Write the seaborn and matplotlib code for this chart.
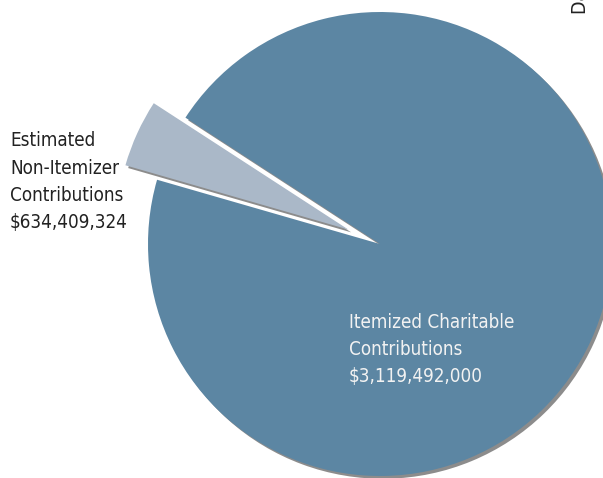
import matplotlib
matplotlib.use("Agg")
import matplotlib.pyplot as plt
import matplotlib.patheffects as pe
import seaborn as sns

# slice labels and dollar amounts shown on the chart
labels = ["Estimated\nNon-Itemizer\nContributions", "Itemized Charitable\nContributions"]
amounts = ["$634,409,324", "$3,119,492,000"]
# slice shares as drawn in the picture (percent of the circle)
shares = [4.7, 95.3]
explode = [0.15, 0.0]
colors = ["#aab8c8", "#5c86a3"]

sns.set_theme(style="white")
plt.rcParams["font.family"] = ["DejaVu Sans"]
plt.rcParams["font.stretch"] = "condensed"

fig = plt.figure(figsize=(6.03, 4.78), dpi=100)
ax = fig.add_axes([0, 0, 1, 1])

# 파이 차트
wedges, _ = ax.pie(
    shares,
    explode=explode,
    colors=colors,
    startangle=147,
    counterclock=True,
    radius=1.0,
    wedgeprops={"linewidth": 0},
)
for w in wedges:
    w.set_path_effects([
        pe.SimplePatchShadow(offset=(2, -2), shadow_rgbFace="#8c8c8c", alpha=1.0),
        pe.Normal(),
    ])

# 픽셀 기준으로 중심(380, 244), 반지름 232px에 맞춤
ax.set_xlim(-380 / 232, (603 - 380) / 232)
ax.set_ylim(-(478 - 244) / 232, 244 / 232)
ax.set_aspect("equal")
ax.axis("off")

# 라벨 (마지막 줄 기준선 위치)
fig.text(10 / 603, 1 - 228 / 478, labels[0] + "\n" + amounts[0],
         ha="left", va="baseline", fontsize=13.5, color="#222222", linespacing=1.55)
fig.text(349 / 603, 1 - 382 / 478, labels[1] + "\n" + amounts[1],
         ha="left", va="baseline", fontsize=13.5, color="#f2f2f2", linespacing=1.55)

# 오른쪽 위 잘린 세로 텍스트
fig.text(590 / 603, 1 - 13.5 / 478, "Data Source", rotation=90,
         ha="right", va="bottom", fontsize=14, color="#222222")

fig.savefig("out.png", dpi=100)
